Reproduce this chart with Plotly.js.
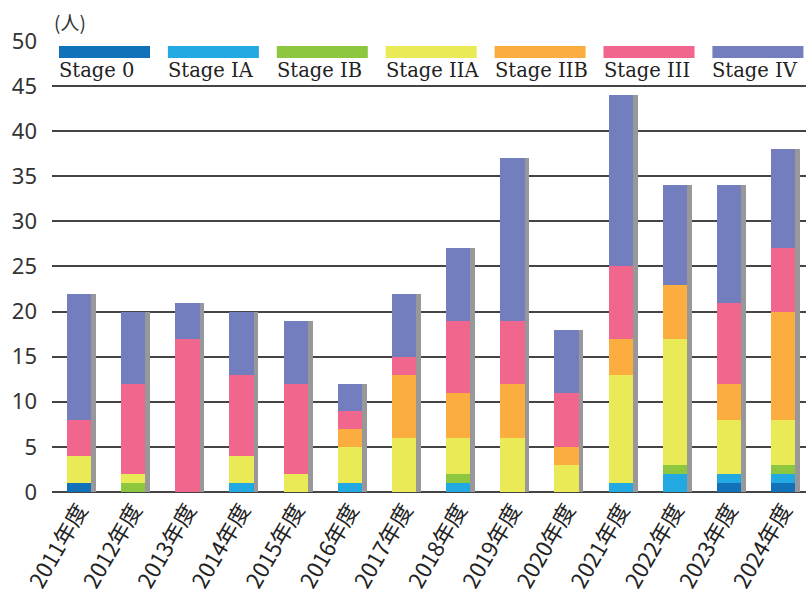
<!DOCTYPE html>
<html>
<head>
<meta charset="utf-8">
<script src="https://cdn.plot.ly/plotly-3.0.1.min.js"></script>
<style>html,body{margin:0;padding:0;background:#fff;}#chart{width:806px;height:594px;}</style>
</head>
<body>
<div id="chart"></div>
<script>
// ---- data ----
const years = ["2011年度","2012年度","2013年度","2014年度","2015年度","2016年度","2017年度","2018年度","2019年度","2020年度","2021年度","2022年度","2023年度","2024年度"];
const stageNames = ["Stage 0","Stage IA","Stage IB","Stage IIA","Stage IIB","Stage III","Stage IV"];
const stage0   = [1,0,0,0,0,0,0,0,0,0,0,0,1,1];
const stageIA  = [0,0,0,1,0,1,0,1,0,0,1,2,1,1];
const stageIB  = [0,1,0,0,0,0,0,1,0,0,0,1,0,1];
const stageIIA = [3,1,0,3,2,4,6,4,6,3,12,14,6,5];
const stageIIB = [0,0,0,0,0,2,7,5,6,2,4,6,4,12];
const stageIII = [4,10,17,9,10,2,2,8,7,6,8,0,9,7];
const stageIV  = [14,8,4,7,7,3,7,8,18,7,19,11,13,11];
const yTicks = [0,5,10,15,20,25,30,35,40,45,50];

// ---- styles ----
const colors = ["#1172b9","#23a9e1","#8dc63f","#e9ea55","#fbae3f","#f0668d","#727ebd"];
const series = [stage0, stageIA, stageIB, stageIIA, stageIIB, stageIII, stageIV];
const totals = years.map((_, i) => series.reduce((s, arr) => s + arr[i], 0));

const L = 52, R = 0, T = 40, B = 102, W = 806, H = 594;
const pw = W - L - R, ph = H - T - B;
const px2x = p => (p - L) / pw;
const py2y = p => (H - B - p) / ph;

const BW = 0.45;
const traces = [];
// shadow (base axis, drawn below)
traces.push({
  type: 'bar', x: years, y: totals, xaxis: 'x', yaxis: 'y',
  marker: {color: '#98989a', line: {width: 0}},
  width: BW, offset: -BW/2 + 0.085, showlegend: false, hoverinfo: 'skip'
});
series.forEach((arr, k) => {
  traces.push({
    type: 'bar', name: stageNames[k], x: years, y: arr, xaxis: 'x2', yaxis: 'y',
    marker: {color: colors[k], line: {width: 0}}, width: BW, showlegend: false
  });
});

// custom legend: colored bar above label
const shapes = [], annotations = [];
stageNames.forEach((n, k) => {
  const x0 = 59 + k * 108.9;
  shapes.push({type: 'rect', xref: 'paper', yref: 'paper',
    x0: px2x(x0), x1: px2x(x0 + 91), y0: py2y(58), y1: py2y(46),
    fillcolor: colors[k], line: {width: 0}, layer: 'above'});
  annotations.push({xref: 'paper', yref: 'paper', x: px2x(x0 - 2), y: py2y(57),
    xanchor: 'left', yanchor: 'top', showarrow: false, text: n,
    font: {family: 'DejaVu Serif', size: 19.5, color: '#222'}});
});
annotations.push({xref: 'paper', yref: 'paper', x: px2x(52), y: py2y(6),
  xanchor: 'left', yanchor: 'top', showarrow: false, text: '(人)',
  font: {family: 'Noto Sans CJK JP', size: 19, color: '#333'}});

const xrange = [-0.5, 13.42];
const layout = {
  width: W, height: H,
  margin: {l: L, r: R, t: T, b: B, pad: 0},
  paper_bgcolor: '#fff', plot_bgcolor: '#fff',
  barmode: 'stack', bargap: 0.5,
  showlegend: false,
  xaxis: {type: 'category', range: xrange, showgrid: false, zeroline: false,
    tickangle: -60, ticks: '', showline: false,
    tickfont: {family: 'Noto Sans CJK JP', size: 22, color: '#222'}},
  xaxis2: {type: 'category', range: xrange, overlaying: 'x', showgrid: false,
    zeroline: false, showticklabels: false, ticks: '', showline: false},
  yaxis: {range: [0, 50.1], tickvals: yTicks, ticktext: yTicks.map(String),
    showgrid: true, gridcolor: '#444', gridwidth: 2,
    zeroline: true, zerolinecolor: '#444', zerolinewidth: 2, showline: false,
    ticks: '', ticklabelstandoff: 14,
    tickfont: {family: 'Noto Sans', size: 22, color: '#333'}},
  shapes: shapes, annotations: annotations
};
Plotly.newPlot('chart', traces, layout, {displayModeBar: false, staticPlot: true});
</script>
</body>
</html>
